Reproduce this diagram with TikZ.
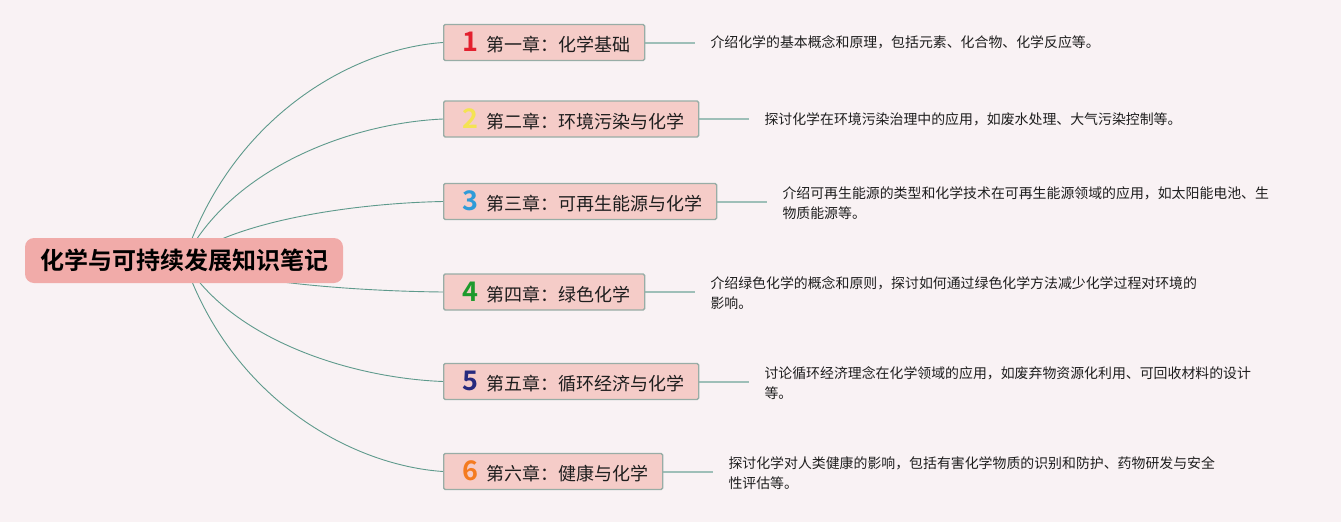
\documentclass[tikz,border=0pt]{standalone}
\usepackage{fontspec}
\setmainfont{Noto Sans CJK SC}
\newfontfamily\cjk{Noto Sans CJK SC}
\newfontfamily\cjkbold{Noto Sans CJK SC Bold}
\usetikzlibrary{calc,backgrounds}
\definecolor{bgcol}{HTML}{F9F2F4}
\definecolor{rootfill}{HTML}{F1ABA9}
\definecolor{chapfill}{HTML}{F5CCC8}
\definecolor{chapdraw}{HTML}{98ADA6}
\definecolor{branchcol}{HTML}{5E9A8C}
\definecolor{leafcol}{HTML}{9EBFB8}
\definecolor{txtcol}{HTML}{1E1E1E}
\definecolor{n1}{HTML}{E3202E}
\definecolor{n2}{HTML}{F4E352}
\definecolor{n3}{HTML}{2F9BD8}
\definecolor{n4}{HTML}{1E9A2C}
\definecolor{n5}{HTML}{272A7E}
\definecolor{n6}{HTML}{F47B20}
\newcommand{\chapnum}[2]{\kern19pt\makebox[24pt][l]{\cjkbold\fontsize{27}{27}\selectfont\textcolor{#1}{#2}}}
\tikzset{
  rootbox/.style={fill=rootfill, rounded corners=9pt, inner xsep=0pt, minimum width=318pt, minimum height=45pt, text=black, font=\cjkbold\fontsize{24}{28}\selectfont},
  chapbox/.style={anchor=west, fill=chapfill, draw=chapdraw, line width=1.3pt, rounded corners=1.5pt, inner xsep=0pt, inner ysep=0pt, minimum height=36pt, text=txtcol, font=\cjk\fontsize{18}{22}\selectfont},
  descbox/.style={anchor=west, inner xsep=15pt, inner ysep=2pt, align=left, text=txtcol, font=\cjk\fontsize{13.9}{20}\selectfont},
  branch/.style={draw=branchcol, line width=0.9pt},
  leaf/.style={draw=leafcol, line width=2pt}
}
\begin{document}
\begin{tikzpicture}[x=1pt,y=-1pt]
\useasboundingbox (0,0) rectangle (1341,522);
\node[rootbox] (root) at (184,260.5) {化学与可持续发展知识笔记};
\node[chapbox] (c1) at (443,42.5) {\chapnum{n1}{1}第一章：化学基础\kern14pt};
\node[chapbox] (c2) at (443,119) {\chapnum{n2}{2}第二章：环境污染与化学\kern14pt};
\node[chapbox] (c3) at (443,201.5) {\chapnum{n3}{3}第三章：可再生能源与化学\kern14pt};
\node[chapbox] (c4) at (443,292) {\chapnum{n4}{4}第四章：绿色化学\kern14pt};
\node[chapbox] (c5) at (443,381.5) {\chapnum{n5}{5}第五章：循环经济与化学\kern14pt};
\node[chapbox] (c6) at (443,471.5) {\chapnum{n6}{6}第六章：健康与化学\kern14pt};
\node[descbox] (d1) at ($(c1.east)+(50,0)$) {介绍化学的基本概念和原理，包括元素、化合物、化学反应等。};
\node[descbox] (d2) at ($(c2.east)+(50,0)$) {探讨化学在环境污染治理中的应用，如废水处理、大气污染控制等。};
\node[descbox] (d3) at ($(c3.east)+(50,1.5)$) {介绍可再生能源的类型和化学技术在可再生能源领域的应用，如太阳能电池、生\\物质能源等。};
\node[descbox] (d4) at ($(c4.east)+(50,1)$) {介绍绿色化学的概念和原则，探讨如何通过绿色化学方法减少化学过程对环境的\\影响。};
\node[descbox] (d5) at ($(c5.east)+(50,1.5)$) {讨论循环经济理念在化学领域的应用，如废弃物资源化利用、可回收材料的设计\\等。};
\node[descbox] (d6) at ($(c6.east)+(50,1.5)$) {探讨化学对人类健康的影响，包括有害化学物质的识别和防护、药物研发与安全\\性评估等。};
\begin{pgfonlayer}{background}
\fill[bgcol] (0,0) rectangle (1341,522);
\draw[branch] (root.center) .. controls ($(root.center)+(46.6,-141.7)$) and ($(c1.west)+(-93.2,6.5)$) .. (c1.west);
\draw[branch] (root.center) .. controls ($(root.center)+(46.6,-92)$) and ($(c2.west)+(-93.2,4.2)$) .. (c2.west);
\draw[branch] (root.center) .. controls ($(root.center)+(46.6,-38.4)$) and ($(c3.west)+(-93.2,1.8)$) .. (c3.west);
\draw[branch] (root.center) .. controls ($(root.center)+(46.6,20.5)$) and ($(c4.west)+(-93.2,-0.9)$) .. (c4.west);
\draw[branch] (root.center) .. controls ($(root.center)+(46.6,78.7)$) and ($(c5.west)+(-93.2,-3.6)$) .. (c5.west);
\draw[branch] (root.center) .. controls ($(root.center)+(46.6,137)$) and ($(c6.west)+(-93.2,-6.3)$) .. (c6.west);
\draw[leaf] (c1.east) -- (c1.east -| d1.west);
\draw[leaf] (c2.east) -- (c2.east -| d2.west);
\draw[leaf] (c3.east) -- (c3.east -| d3.west);
\draw[leaf] (c4.east) -- (c4.east -| d4.west);
\draw[leaf] (c5.east) -- (c5.east -| d5.west);
\draw[leaf] (c6.east) -- (c6.east -| d6.west);
\end{pgfonlayer}
\end{tikzpicture}
\end{document}
